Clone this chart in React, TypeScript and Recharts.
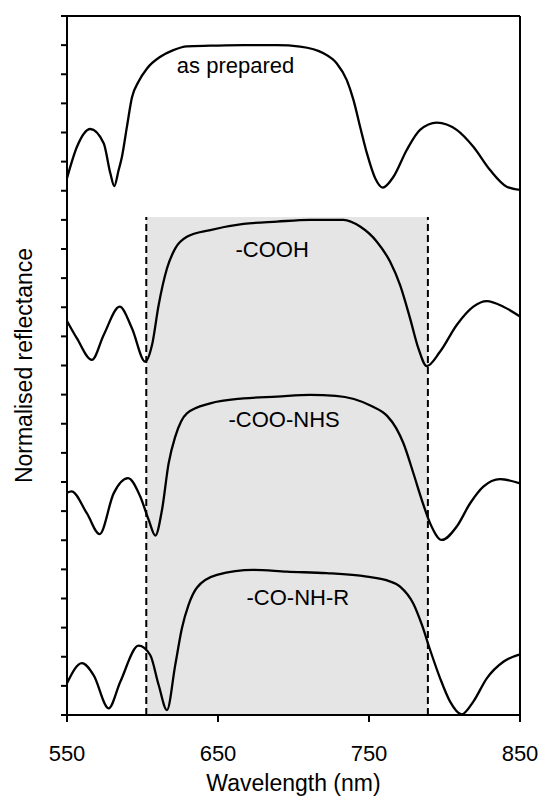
import React from "react";
import {
  LineChart,
  Line,
  XAxis,
  YAxis,
  ReferenceArea,
  ReferenceLine,
  ReferenceDot,
} from "recharts";

// wavelength (nm) / normalised reflectance (offset stacked)
const asPreparedX = [550, 556.6, 565.4, 574.3, 578.7, 581.3, 584.2, 586.4, 589.7, 593, 597.4, 603, 611.8, 620, 629.4, 644.9, 666.9, 689, 704.4, 719.9, 728.7, 735.3, 739.7, 744.1, 748.6, 754.1, 759.1, 766.2, 775, 783.8, 794.9, 808.1, 819.1, 830.2, 841.2, 850];
const asPreparedY = [18.43, 19.51, 20.12, 19.63, 18.6, 18.16, 18.71, 19.17, 20.2, 21.2, 21.75, 22.2, 22.6, 22.82, 22.96, 22.98, 23.0, 23.0, 22.95, 22.72, 22.37, 21.8, 21.12, 20.2, 19.29, 18.43, 18.11, 18.48, 19.4, 20.09, 20.34, 20.09, 19.51, 18.71, 18.14, 18.03];

const coohX = [550, 556.6, 566.5, 574.3, 584.9, 593, 601.8, 606.3, 610.7, 616.2, 621.7, 629.4, 644.9, 666.9, 689, 711, 733.1, 744.1, 755.2, 764, 770.6, 777.2, 782.7, 788.2, 797, 808.1, 819.1, 828, 839, 850];
const coohY = [13.53, 12.93, 12.19, 13.05, 14.02, 13.28, 12.13, 12.7, 14.08, 15.33, 16.02, 16.42, 16.65, 16.86, 16.94, 17.0, 17.0, 16.77, 16.25, 15.56, 14.76, 13.62, 12.59, 11.98, 12.47, 13.39, 14.02, 14.21, 14.02, 13.68];

const nhsX = [550, 553, 563.2, 571.6, 580.9, 590.4, 598.5, 604.1, 608.5, 612.9, 617.3, 621.7, 629.4, 644.9, 666.9, 689, 711, 728, 740, 752, 762, 768, 772.8, 779.4, 785, 790.5, 798.2, 808.1, 817, 825.7, 836.8, 850];
const nhsY = [7.63, 7.68, 6.92, 6.21, 7.61, 8.13, 7.5, 6.7, 6.16, 7.04, 8.64, 9.56, 10.36, 10.7, 10.87, 10.93, 10.99, 10.96, 10.85, 10.6, 10.27, 9.85, 9.33, 8.3, 7.38, 6.58, 6.01, 6.47, 7.27, 7.84, 8.1, 7.95];

const amideX = [550, 559.9, 567.6, 577.6, 585.3, 597.4, 605.1, 610.7, 616.2, 621.7, 626.1, 630.5, 636, 649.3, 673.5, 695.6, 722, 748.6, 762, 770.6, 779.4, 785, 790.5, 797.1, 803.7, 811.4, 819.1, 828, 839, 850];
const amideY = [1.09, 1.78, 1.37, 0.23, 1.14, 2.38, 2.06, 1.03, 0.17, 1.72, 2.98, 3.78, 4.37, 4.81, 4.98, 4.92, 4.87, 4.75, 4.62, 4.41, 3.82, 3.1, 2.23, 1.26, 0.46, 0.02, 0.46, 1.26, 1.83, 2.08];

const xTicks = [550, 650, 750, 850];
const yTicks = [0, 1, 2, 3, 4, 5, 6, 7, 8, 9, 10, 11, 12, 13, 14, 15, 16, 17, 18, 19, 20, 21, 22, 23, 24];

const bandStart = 602.5;
const bandEnd = 789;
const bandTop = 17.1;

const curveLabels = [
  { text: "as prepared", x: 661.6, y: 22.3 },
  { text: "-COOH", x: 685.9, y: 16.0 },
  { text: "-COO-NHS", x: 693.8, y: 10.15 },
  { text: "-CO-NH-R", x: 702.9, y: 4.06 },
];

const zip = (xs: number[], ys: number[]) => xs.map((x, i) => ({ x, y: ys[i] }));

const series = [
  zip(asPreparedX, asPreparedY),
  zip(coohX, coohY),
  zip(nhsX, nhsY),
  zip(amideX, amideY),
];

const FONT = '"Liberation Sans", Arial, Helvetica, sans-serif';

export default function App() {
  return (
    <div style={{ position: "absolute", left: 0, top: 0 }}>
      <LineChart
        width={539}
        height={796}
        margin={{ top: 16, right: 19, bottom: 0, left: 0 }}
        style={{ fontFamily: FONT }}
      >
        <ReferenceArea
          x1={bandStart}
          x2={bandEnd}
          y1={0}
          y2={bandTop}
          fill="#e5e5e5"
          fillOpacity={1}
          stroke="none"
        />
        <XAxis
          type="number"
          dataKey="x"
          domain={[550, 850]}
          ticks={xTicks}
          interval={0}
          height={81}
          tickSize={7}
          tickMargin={23}
          axisLine={{ stroke: "#000", strokeWidth: 2 }}
          tickLine={{ stroke: "#000", strokeWidth: 2 }}
          tick={{ fill: "#000", fontSize: 22 }}
          label={{ value: "Wavelength (nm)", position: "insideBottom", offset: 5, fill: "#000", fontSize: 23 }}
        />
        <YAxis
          type="number"
          domain={[0, 24]}
          ticks={yTicks}
          interval={0}
          width={67}
          tickSize={6}
          tickFormatter={() => ""}
          axisLine={{ stroke: "#000", strokeWidth: 2 }}
          tickLine={{ stroke: "#000", strokeWidth: 2 }}
          label={{
            value: "Normalised reflectance",
            angle: -90,
            position: "insideLeft",
            offset: 24,
            fill: "#000",
            fontSize: 23,
            style: { textAnchor: "middle" },
          }}
        />
        <ReferenceLine y={24} stroke="#000" strokeWidth={2} />
        <ReferenceLine x={850} stroke="#000" strokeWidth={2} />
        <ReferenceLine
          segment={[{ x: bandStart, y: 0 }, { x: bandStart, y: bandTop }]}
          stroke="#000"
          strokeWidth={2}
          strokeDasharray="7 4"
        />
        <ReferenceLine
          segment={[{ x: bandEnd, y: 0 }, { x: bandEnd, y: bandTop }]}
          stroke="#000"
          strokeWidth={2}
          strokeDasharray="7 4"
        />
        {series.map((data, i) => (
          <Line
            key={i}
            data={data}
            dataKey="y"
            type="monotone"
            stroke="#000"
            strokeWidth={2.3}
            dot={false}
            activeDot={false}
            isAnimationActive={false}
          />
        ))}
        {curveLabels.map((l) => (
          <ReferenceDot
            key={l.text}
            x={l.x}
            y={l.y}
            r={0}
            fill="none"
            stroke="none"
            label={{ value: l.text, position: "center", fill: "#000", fontSize: 22 }}
          />
        ))}
      </LineChart>
    </div>
  );
}
